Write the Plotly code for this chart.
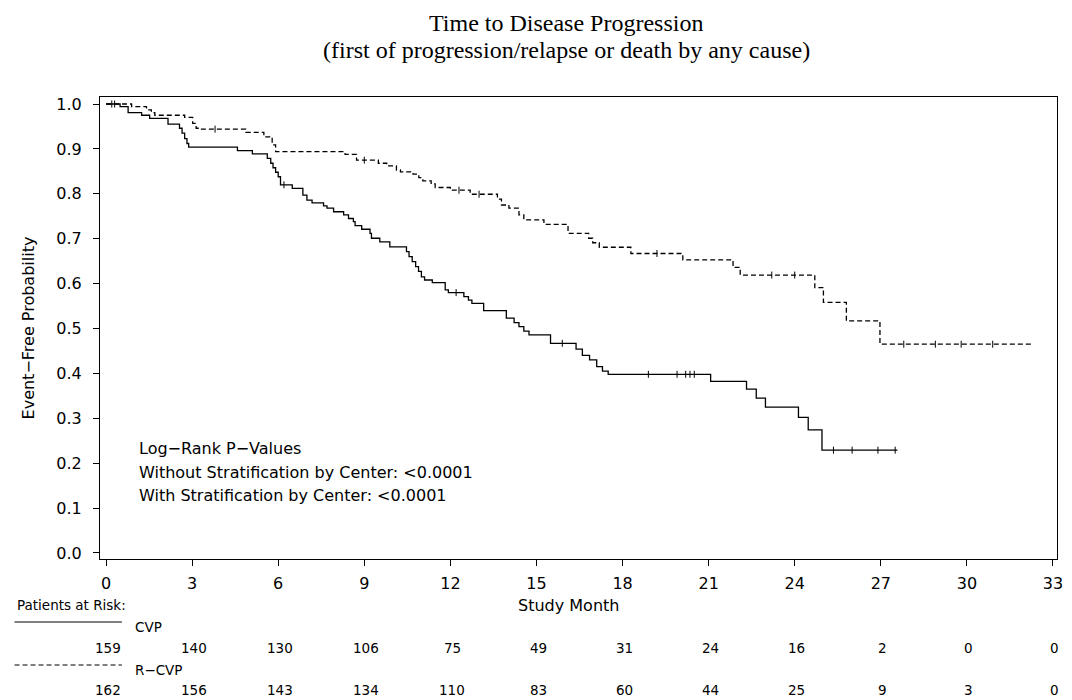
import numpy as np
import plotly.graph_objects as go

# ---- Kaplan-Meier estimates: event times (months) and event-free probability ----
cvp_time = [0, 0.49, 0.77, 1.24, 1.52, 2.16, 2.56, 2.65, 2.74, 2.82, 2.88, 4.58, 5.10,
            5.62, 5.74, 5.82, 5.91, 6.00, 6.08, 6.49, 6.86, 7.00, 7.18, 7.58, 7.70, 7.93,
            8.28, 8.45, 8.62, 8.68, 8.91, 9.20, 9.25, 9.54, 9.89, 10.47, 10.56, 10.67,
            10.79, 10.89, 10.99, 11.10, 11.37, 11.82, 11.93, 12.47, 12.63, 12.75, 13.16,
            13.95, 14.22, 14.39, 14.56, 14.74, 15.49, 16.38, 16.60, 16.85, 17.10, 17.30,
            17.50, 21.07, 22.32, 22.66, 22.98, 24.13, 24.47, 24.95]
cvp_surv = [1.0, 0.994, 0.981, 0.975, 0.968, 0.955, 0.946, 0.935, 0.923, 0.912, 0.904,
            0.896, 0.889, 0.879, 0.868, 0.858, 0.848, 0.838, 0.820, 0.812, 0.797, 0.786,
            0.780, 0.773, 0.768, 0.760, 0.753, 0.745, 0.738, 0.729, 0.721, 0.712, 0.701,
            0.693, 0.682, 0.671, 0.660, 0.649, 0.638, 0.627, 0.615, 0.608, 0.602, 0.586,
            0.580, 0.571, 0.563, 0.556, 0.540, 0.523, 0.513, 0.504, 0.494, 0.486, 0.467,
            0.454, 0.440, 0.430, 0.415, 0.405, 0.398, 0.382, 0.365, 0.345, 0.325, 0.302,
            0.274, 0.229]
cvp_last_followup = 27.58

rcvp_time = [0, 0.89, 1.41, 1.58, 1.70, 2.74, 3.02, 3.14, 3.25, 4.87, 5.50, 5.79, 5.91,
             8.33, 8.73, 9.49, 9.78, 10.12, 10.26, 10.70, 10.90, 11.04, 11.33, 11.47,
             12.00, 12.69, 13.64, 13.78, 14.04, 14.39, 14.56, 15.26, 16.10, 16.82, 16.96,
             17.19, 18.29, 20.10, 21.85, 22.10, 24.70, 25.00, 25.80, 26.97]
rcvp_surv = [1.0, 0.994, 0.987, 0.981, 0.975, 0.970, 0.957, 0.946, 0.944, 0.937, 0.927,
             0.909, 0.894, 0.888, 0.875, 0.868, 0.862, 0.853, 0.849, 0.844, 0.836, 0.829,
             0.822, 0.814, 0.808, 0.799, 0.788, 0.775, 0.768, 0.753, 0.742, 0.732, 0.712,
             0.701, 0.691, 0.681, 0.667, 0.653, 0.636, 0.619, 0.591, 0.558, 0.517, 0.465]
rcvp_last_followup = 32.3

# censored observations (months)
cvp_censor = [0.2, 6.2, 12.2, 15.9, 18.9, 19.9, 20.2, 20.35, 20.5, 25.35, 26.0, 26.9, 27.5]
rcvp_censor = [0.3, 3.8, 9.0, 12.3, 13.0, 19.2, 23.2, 24.0, 27.8, 28.9, 29.8, 30.9]

# ---- patients at risk ----
month_ticks = [0, 3, 6, 9, 12, 15, 18, 21, 24, 27, 30, 33]
cvp_at_risk = [159, 140, 130, 106, 75, 49, 31, 24, 16, 2, 0, 0]
rcvp_at_risk = [162, 156, 143, 134, 110, 83, 60, 44, 25, 9, 3, 0]

pvalue_lines = ["Log\u2212Rank P\u2212Values",
                "Without Stratification by Center: <0.0001",
                "With Stratification by Center: <0.0001"]

# ---- page geometry (pixels) ----
W, H = 1072, 700
PL, PR, PT, PB = 100, 1063, 97, 559


def px(x):
    return (x - PL) / (PR - PL)


def py(y):
    return (PB - y) / (PB - PT)


def step_value(times, surv, t):
    i = int(np.searchsorted(times, t, side="right")) - 1
    return surv[i]


FONT = "DejaVu Sans"
SERIF = "Liberation Serif"
DASH = "5px,3px"

fig = go.Figure()

fig.add_trace(go.Scatter(
    x=cvp_time + [cvp_last_followup], y=cvp_surv + [cvp_surv[-1]],
    mode="lines", line=dict(color="black", width=1.3, shape="hv"),
    name="CVP", showlegend=False, hoverinfo="skip"))
fig.add_trace(go.Scatter(
    x=rcvp_time + [rcvp_last_followup], y=rcvp_surv + [rcvp_surv[-1]],
    mode="lines", line=dict(color="black", width=1.3, shape="hv", dash=DASH),
    name="R\u2212CVP", showlegend=False, hoverinfo="skip"))

# censor ticks
censor_marker = dict(symbol="line-ns", size=5, line=dict(color="black", width=1))
fig.add_trace(go.Scatter(
    x=cvp_censor, y=[step_value(cvp_time, cvp_surv, t) for t in cvp_censor],
    mode="markers", marker=censor_marker, showlegend=False, hoverinfo="skip"))
fig.add_trace(go.Scatter(
    x=rcvp_censor, y=[step_value(rcvp_time, rcvp_surv, t) for t in rcvp_censor],
    mode="markers", marker=censor_marker, showlegend=False, hoverinfo="skip"))


def label(text, xpix, ypix, size, anchor="left", family=FONT, angle=0):
    return dict(text=text, x=px(xpix), y=py(ypix), xref="paper", yref="paper",
                showarrow=False, xanchor=anchor, yanchor="middle", textangle=angle,
                font=dict(family=family, size=size))


ann = [
    label("Time to Disease Progression", 569, 23, 24, "center", SERIF),
    label("(first of progression/relapse or death by any cause)", 569, 50, 24,
          "center", SERIF),
    label("Study Month", 571, 605, 16, "center"),
    label("Event\u2212Free Probability", 28, 328, 16, "center", angle=-90),
    label("Patients at Risk:", 14, 605, 13.5),
    label("CVP", 133, 627, 13.5),
    label("R\u2212CVP", 133, 670, 13.5),
]
for line, ypix in zip(pvalue_lines, [448, 472, 495]):
    ann.append(label(line, 137, ypix, 16))

for m, n1, n2 in zip(month_ticks, cvp_at_risk, rcvp_at_risk):
    for n, ypix in ((n1, 648), (n2, 690)):
        ann.append(dict(text=str(n), x=m, xref="x", y=py(ypix), yref="paper",
                        showarrow=False, xanchor="center", yanchor="middle",
                        xshift=2, font=dict(family=FONT, size=13.5)))

shapes = [
    dict(type="line", xref="paper", yref="paper", x0=px(14), x1=px(122),
         y0=py(622), y1=py(622), line=dict(color="black", width=1)),
    dict(type="line", xref="paper", yref="paper", x0=px(14), x1=px(122),
         y0=py(665), y1=py(665), line=dict(color="black", width=1, dash=DASH)),
]

axis_common = dict(showgrid=False, zeroline=False, showline=True, mirror=True,
                   linecolor="black", linewidth=1, ticks="outside", ticklen=6,
                   tickwidth=1, tickcolor="black",
                   tickfont=dict(family=FONT, size=16))

fig.update_layout(
    width=W, height=H,
    margin=dict(l=PL, r=W - PR, t=PT, b=H - PB, pad=0),
    paper_bgcolor="white", plot_bgcolor="white",
    font=dict(family=FONT, size=16, color="black"),
    annotations=ann, shapes=shapes, showlegend=False,
    xaxis=dict(range=[-0.21, 33.14], tickvals=month_ticks,
               ticktext=[str(m) for m in month_ticks], ticklabelstandoff=4,
               **axis_common),
    yaxis=dict(range=[-0.0134, 1.0156], tickvals=[i / 10 for i in range(11)],
               tickformat=".1f", ticklabelstandoff=8, **axis_common),
)

fig.write_html("out.html")
